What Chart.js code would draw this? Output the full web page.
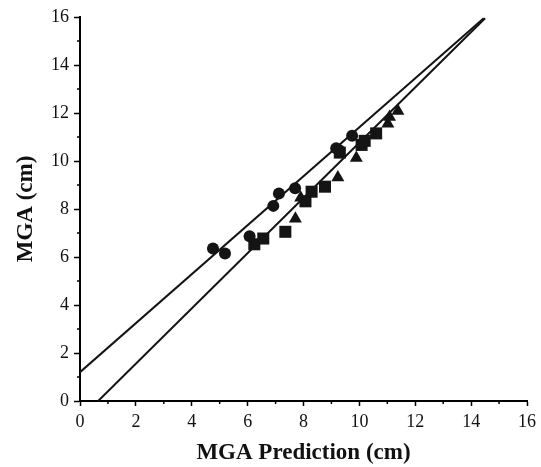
<!DOCTYPE html>
<html>
<head>
<meta charset="UTF-8">
<title>MGA</title>
<script src="https://cdn.jsdelivr.net/npm/chart.js"></script>
<style>
  body { margin: 0; background: #fff; }
  #wrap { width: 541px; height: 467px; }
</style>
</head>
<body>
<div id="wrap"><canvas id="grafico"></canvas></div>
<script>
    // pontos
    const circuloX = [4.76, 5.19, 6.07, 6.92, 7.12, 7.70, 9.17, 9.28, 9.74];
    const circuloY = [6.35, 6.15, 6.86, 8.13, 8.65, 8.86, 10.53, 10.45, 11.05];

    const quadradoX = [6.24, 6.56, 7.35, 8.07, 8.29, 8.77, 9.30, 10.08, 10.19, 10.60];
    const quadradoY = [6.53, 6.77, 7.05, 8.32, 8.72, 8.93, 10.35, 10.67, 10.84, 11.15];

    const trianguloX = [7.71, 7.90, 9.23, 9.89, 11.02, 11.08, 11.38];
    const trianguloY = [7.59, 8.47, 9.31, 10.13, 11.55, 11.83, 12.08];

    // retas de regressao
    const reta1X = [0, 14.45];
    const reta1Y = [1.2, 15.95];
    const reta2X = [0.65, 14.5];
    const reta2Y = [0, 15.95];

    const eixoTicks = [0, 2, 4, 6, 8, 10, 12, 14, 16];

    function pares(xs, ys) {
        let r = [];
        for (let i = 0; i < xs.length; i++) {
            r.push({ x: xs[i], y: ys[i] });
        }
        return r;
    }

    const cor = '#141414';

    // tracinhos menores nos valores impares
    const ticksMenores = {
        id: 'ticksMenores',
        afterDraw(chart) {
            const ctx = chart.ctx;
            const sx = chart.scales.x;
            const sy = chart.scales.y;
            ctx.save();
            ctx.strokeStyle = '#000';
            ctx.lineWidth = 1.5;
            for (let v = 1; v < 16; v += 2) {
                let px = sx.getPixelForValue(v);
                ctx.beginPath();
                ctx.moveTo(px, sy.bottom);
                ctx.lineTo(px, sy.bottom + 3);
                ctx.stroke();
                let py = sy.getPixelForValue(v);
                ctx.beginPath();
                ctx.moveTo(sx.left, py);
                ctx.lineTo(sx.left - 3, py);
                ctx.stroke();
            }
            ctx.restore();
        }
    };

    const serif = "'Liberation Serif', 'DejaVu Serif', serif";

    new Chart(document.getElementById('grafico'), {
        type: 'scatter',
        data: {
            datasets: [
                {
                    data: pares(reta1X, reta1Y),
                    showLine: true,
                    borderColor: cor,
                    borderWidth: 2,
                    pointRadius: 0
                },
                {
                    data: pares(reta2X, reta2Y),
                    showLine: true,
                    borderColor: cor,
                    borderWidth: 2,
                    pointRadius: 0
                },
                {
                    data: pares(circuloX, circuloY),
                    pointStyle: 'circle',
                    pointRadius: 6,
                    backgroundColor: cor,
                    borderColor: cor,
                    borderWidth: 0
                },
                {
                    data: pares(quadradoX, quadradoY),
                    pointStyle: 'rect',
                    pointRadius: 8.5,
                    backgroundColor: cor,
                    borderColor: cor,
                    borderWidth: 0
                },
                {
                    data: pares(trianguloX, trianguloY),
                    pointStyle: 'triangle',
                    pointRadius: 7.5,
                    backgroundColor: cor,
                    borderColor: cor,
                    borderWidth: 0
                }
            ]
        },
        options: {
            responsive: true,
            maintainAspectRatio: false,
            animation: false,
            layout: { padding: { left: 0, right: 14, top: 17, bottom: 0 } },
            plugins: {
                legend: { display: false },
                tooltip: { enabled: false }
            },
            scales: {
                x: {
                    type: 'linear',
                    min: 0,
                    max: 16,
                    afterBuildTicks: function (s) { s.ticks = eixoTicks.map(v => ({ value: v })); },
                    afterFit: function (s) { s.height = 66; },
                    border: { color: '#000', width: 2 },
                    grid: { drawOnChartArea: false, tickLength: 5, tickColor: '#000', tickWidth: 1.5 },
                    ticks: { color: '#111', font: { family: serif, size: 18 }, padding: 5, maxRotation: 0 },
                    title: {
                        display: true,
                        text: 'MGA Prediction (cm)',
                        color: '#111',
                        font: { family: serif, size: 23, weight: 'bold' },
                        padding: { top: 2, bottom: 0 }
                    }
                },
                y: {
                    type: 'linear',
                    min: 0,
                    max: 16,
                    afterBuildTicks: function (s) { s.ticks = eixoTicks.map(v => ({ value: v })); },
                    afterFit: function (s) { s.width = 80; },
                    border: { color: '#000', width: 2 },
                    grid: { drawOnChartArea: false, tickLength: 6, tickColor: '#000', tickWidth: 1.5 },
                    ticks: { color: '#111', font: { family: serif, size: 18 }, padding: 5 },
                    title: {
                        display: true,
                        text: 'MGA (cm)',
                        color: '#111',
                        font: { family: serif, size: 23, weight: 'bold' },
                        padding: { top: 12, bottom: 0 }
                    }
                }
            }
        },
        plugins: [ticksMenores]
    });
</script>
</body>
</html>
